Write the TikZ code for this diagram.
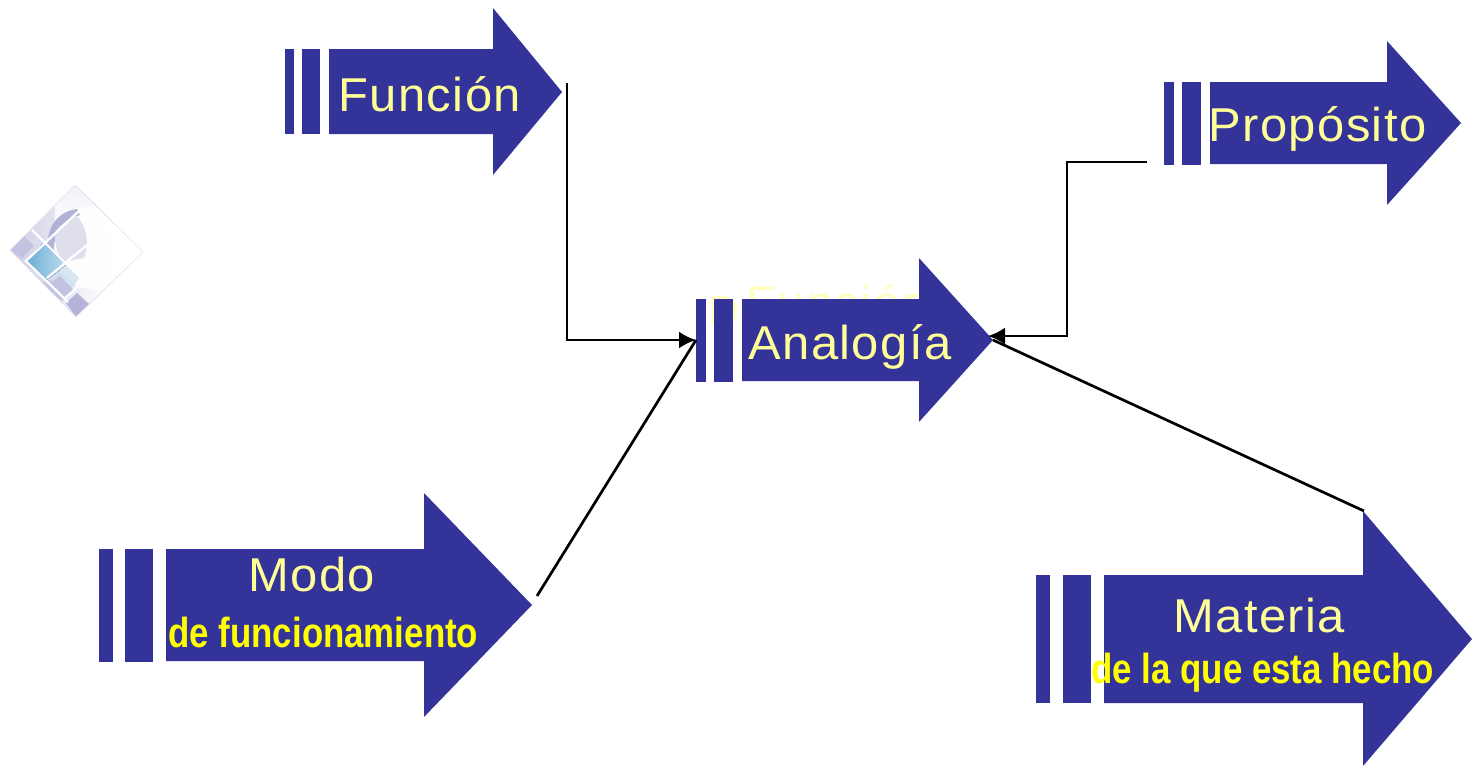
\documentclass[tikz,border=0pt]{standalone}
\usepackage{fontspec}
\usetikzlibrary{arrows.meta}
\newfontfamily\lblfont[LetterSpace=3,FakeStretch=1.03]{Liberation Sans}
\newfontfamily\subfont[FakeStretch=0.83]{Liberation Sans Bold}
\definecolor{arrowblue}{HTML}{333399}
\definecolor{paleyellow}{HTML}{FFFF99}
\definecolor{hiddenyellow}{HTML}{FFFFC0}
\definecolor{subyellow}{HTML}{FFFF00}
\definecolor{logoA}{RGB}{205,205,230}
\definecolor{logoB}{RGB}{240,240,248}
\definecolor{logoC}{RGB}{178,178,214}
\definecolor{logoD}{RGB}{222,222,236}
\definecolor{logoE}{RGB}{105,175,215}
\definecolor{logoF}{RGB}{200,222,238}
\definecolor{logoH}{RGB}{195,195,225}
\definecolor{logoI}{RGB}{180,180,216}
\definecolor{logoJ}{RGB}{232,232,244}
\tikzset{
  x=0.5pt,y=-0.5pt,
  blue part/.style={fill=arrowblue,draw=none},
  main label/.style={anchor=base west,inner sep=0pt,text=paleyellow,font=\lblfont\fontsize{23.75}{26}\selectfont},
  hidden label/.style={anchor=base west,inner sep=0pt,text=hiddenyellow,font=\lblfont\fontsize{23.75}{26}\selectfont},
  sub label/.style={anchor=base west,inner sep=0pt,text=subyellow,font=\subfont\fontsize{21}{24}\selectfont},
  link/.style={draw=black,line width=1.35pt},
  linktip/.style={link,-{Latex[length=8.5pt,width=8.5pt]}},
  grid line/.style={draw=white,line width=1.1pt},
}
\begin{document}
\begin{tikzpicture}
\useasboundingbox (0,0) rectangle (1480,771);

% logo
\begin{scope}
  \clip (10,250) -- (75,185) -- (143,252) -- (76,317) -- cycle;
  \fill[left color=logoA,right color=white] (10,185) rectangle (110,317);
  \fill[white] (110,185) rectangle (143,317);
  \fill[top color=logoB,bottom color=white] (55,185) rectangle (143,225);
  % white globe
  \fill[white,opacity=.9] (96,248) circle (42);
  % crescent
  \fill[logoC] (77,209) .. controls (52,212) and (38,240) .. (56,268) .. controls (50,245) and (55,222) .. (80,215) -- cycle;
  \fill[logoD] (55,233) .. controls (60,224) and (70,218) .. (78,217) .. controls (86,228) and (90,240) .. (84,258) -- (62,262) .. controls (57,252) and (54,242) .. (55,233) -- cycle;
  % coloured cells
  \fill[left color=logoE,right color=logoF] (27,260) -- (45,241) -- (68,264) -- (47,280) -- cycle;
  \fill[logoF,opacity=.7] (48,281) -- (68,265) -- (80,277) -- (65,297) -- cycle;
  \fill[logoH] (42,282) -- (59,299) -- (66,297) -- (50,280) -- cycle;
  \fill[logoH] (46,287) -- (62,301) -- (74,290) -- (60,276) -- cycle;
  \fill[logoI] (66,303) -- (77,293) -- (90,305) -- (76,317) -- cycle;
  \fill[logoH] (10,250) -- (24,236) -- (34,246) -- (22,258) -- cycle;
  % grid
  \draw[grid line] (32,230) -- (80,277);
  \draw[grid line] (25,260) -- (68,302);
  \draw[grid line] (27,260) -- (80,210);
  \draw[grid line] (47,278) -- (87,245);
  \draw[grid line] (65,298) -- (100,267);
\end{scope}
\draw[logoJ,line width=.4pt] (10,250) -- (75,185) -- (143,252) -- (76,317) -- cycle;

% text hidden behind the central arrow
\node[hidden label,font=\lblfont\fontsize{21}{24}\selectfont] (hiddenD) at (708,325) {D};
\node[hidden label] (hiddenF) at (746,319) {Función};

% Función
\fill[blue part] (285,49) rectangle (294,134);
\fill[blue part] (302,49) rectangle (320,134);
\fill[blue part] (329,49) -- (493,49) -- (493,8) -- (562,92) -- (493,175) -- (493,134) -- (329,134) -- cycle;
\node[main label] (funcion) at (338,111) {Función};
\coordinate (funcionOut) at (567,83);

% Propósito
\fill[blue part] (1164,82) rectangle (1174,165);
\fill[blue part] (1182,82) rectangle (1201,165);
\fill[blue part] (1210,82) -- (1387,82) -- (1387,41) -- (1461,123) -- (1387,205) -- (1387,164) -- (1210,164) -- cycle;
\node[main label] (proposito) at (1208,141) {Propósito};
\coordinate (propositoOut) at (1147,162);

% Analogía
\fill[blue part] (696,299) rectangle (706,382);
\fill[blue part] (714,299) rectangle (733,382);
\fill[blue part] (742,299) -- (919,299) -- (919,258) -- (993,340) -- (919,422) -- (919,381) -- (742,381) -- cycle;
\node[main label] (analogia) at (748,359) {Analogía};
\coordinate (analogiaIn) at (696,340);
\coordinate (analogiaTip) at (988,336);
\coordinate (analogiaEnd) at (993,340);

% Modo
\fill[blue part] (99,549) rectangle (113,662);
\fill[blue part] (125,549) rectangle (153,662);
\fill[blue part] (166,549) -- (424,549) -- (424,493) -- (532,605) -- (424,717) -- (424,661) -- (166,661) -- cycle;
\node[main label] (modo) at (248,591) {Modo};
\node[sub label] (modosub) at (168,647) {de funcionamiento};
\coordinate (modoOut) at (537,596);

% Materia
\fill[blue part] (1036,575) rectangle (1050,703);
\fill[blue part] (1063,575) rectangle (1091,703);
\fill[blue part] (1104,575) -- (1363,575) -- (1363,511) -- (1472,639) -- (1363,766) -- (1363,703) -- (1104,703) -- cycle;
\node[main label] (materia) at (1173,632) {Materia};
\node[sub label] (materiasub) at (1091,683) {de la que esta hecho};
\coordinate (materiaOut) at (1364,511);

% connectors
\draw[linktip] (funcionOut) -- (funcionOut |- analogiaIn) -- (analogiaIn);
\draw[link] (modoOut) -- (analogiaIn);
\coordinate (propositoBend) at (1067,162);
\draw[linktip] (propositoOut) -- (propositoBend) -- (propositoBend |- analogiaTip) -- (analogiaTip);
\draw[link] (materiaOut) -- (analogiaEnd);
\end{tikzpicture}
\end{document}
